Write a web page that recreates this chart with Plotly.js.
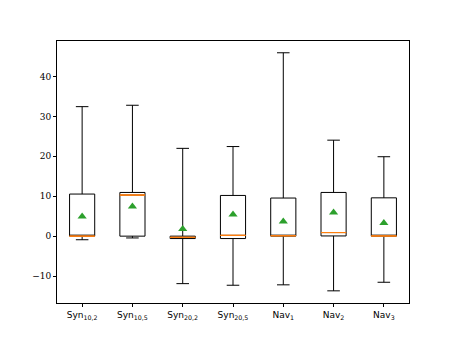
<!DOCTYPE html>
<html>
<head>
<meta charset="utf-8">
<script src="https://cdn.plot.ly/plotly-3.0.1.min.js"></script>
<style>
  html, body { margin: 0; padding: 0; background: #fff; }
  #chart { width: 455px; height: 341px; }
</style>
</head>
<body>
<div id="chart"></div>
<script>
// Box statistics
const labels = ['Syn<sub>10,2</sub>', 'Syn<sub>10,5</sub>', 'Syn<sub>20,2</sub>', 'Syn<sub>20,5</sub>',
                'Nav<sub>1</sub>', 'Nav<sub>2</sub>', 'Nav<sub>3</sub>'];
const positions = [1, 2, 3, 4, 5, 6, 7];
const lowWhisker = [-0.9, -0.45, -11.9, -12.3, -12.2, -13.7, -11.55];
const q1 = [0.0, 0.0, -0.6, -0.6, 0.0, 0.05, 0.0];
const median = [0.0, 10.3, -0.3, 0.2, 0.1, 0.9, 0.05];
const q3 = [10.55, 10.95, 0.0, 10.2, 9.55, 10.95, 9.6];
const highWhisker = [32.45, 32.8, 22.0, 22.45, 45.95, 24.05, 19.9];
const means = [4.95, 7.4, 1.8, 5.4, 3.7, 5.95, 3.3];

// boxes with black edges
const boxTrace = {
    type: 'box',
    x: positions,
    q1: q1,
    median: median,
    q3: q3,
    lowerfence: lowWhisker,
    upperfence: highWhisker,
    width: 0.5,
    whiskerwidth: 0.5,
    boxpoints: false,
    fillcolor: 'rgba(0,0,0,0)',
    line: { color: '#000000', width: 1 },
    hoverinfo: 'skip',
    showlegend: false
};

// orange median lines drawn as flat boxes on top
const medianTrace = {
    type: 'box',
    x: positions,
    q1: median,
    median: median,
    q3: median,
    lowerfence: median,
    upperfence: median,
    width: 0.5,
    whiskerwidth: 0,
    boxpoints: false,
    fillcolor: 'rgba(0,0,0,0)',
    line: { color: '#ff7f0e', width: 1 },
    hoverinfo: 'skip',
    showlegend: false
};

// green triangles at the means
const meanTrace = {
    type: 'scatter',
    mode: 'markers',
    x: positions,
    y: means,
    marker: { symbol: 'triangle-up', size: 8, color: '#2ca02c' },
    hoverinfo: 'skip',
    showlegend: false
};

const layout = {
    width: 455,
    height: 341,
    margin: { l: 57, r: 45.5, t: 41, b: 37.5 },
    paper_bgcolor: '#ffffff',
    plot_bgcolor: '#ffffff',
    boxmode: 'overlay',
    showlegend: false,
    xaxis: {
        range: [0.5, 7.5],
        tickvals: positions,
        ticktext: labels,
        showgrid: false,
        zeroline: false,
        showline: true,
        mirror: true,
        linecolor: '#000000',
        linewidth: 1,
        ticks: 'outside',
        ticklen: 3,
        tickcolor: '#000000',
        tickfont: { family: 'DejaVu Sans', size: 9, color: '#000000' }
    },
    yaxis: {
        range: [-16.75, 48.9],
        tickvals: [-10, 0, 10, 20, 30, 40],
        ticktext: ['\u221210', '0', '10', '20', '30', '40'],
        showgrid: false,
        zeroline: false,
        showline: true,
        mirror: true,
        linecolor: '#000000',
        linewidth: 1,
        ticks: 'outside',
        ticklen: 3,
        tickcolor: '#000000',
        tickfont: { family: 'DejaVu Serif', size: 9, color: '#000000' }
    }
};

Plotly.newPlot('chart', [boxTrace, medianTrace, meanTrace], layout, { staticPlot: true });
</script>
</body>
</html>
